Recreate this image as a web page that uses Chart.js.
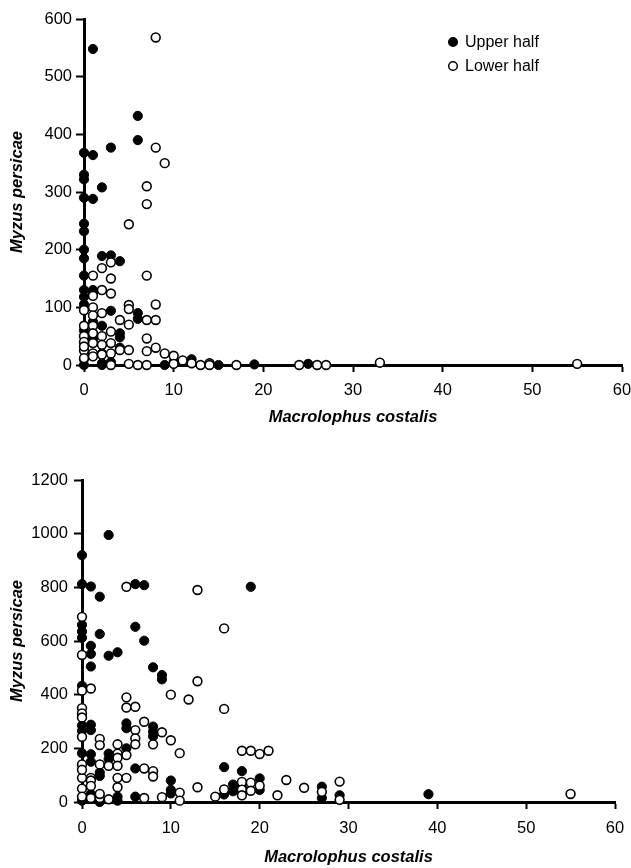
<!DOCTYPE html>
<html>
<head>
<meta charset="utf-8">
<title>Myzus persicae vs Macrolophus costalis</title>
<script src="https://cdn.jsdelivr.net/npm/chart.js@4/dist/chart.umd.min.js"></script>
<style>
  html, body { margin: 0; padding: 0; background: #fff; }
  canvas { display: block; }
</style>
</head>
<body>
<canvas id="topChart" width="631" height="435"></canvas>
<canvas id="bottomChart" width="631" height="433"></canvas>
<script>
// 상단 그래프 (0-600) : Upper half = 채움, Lower half = 빈 원
const topUpperX = [1, 6, 6, 3, 0, 1, 0, 0, 2, 0, 1, 0, 0, 0, 0, 2, 3, 4, 0, 0, 1, 0, 1, 0, 3, 6, 6, 2, 4, 4, 0, 1, 2, 2, 3, 2, 0, 9, 10, 12, 15, 19, 25, 4, 1, 0];
const topUpperY = [548, 432, 390, 377, 368, 364, 330, 322, 308, 290, 288, 245, 232, 200, 185, 189, 190, 180, 155, 130, 130, 118, 124, 105, 94, 90, 80, 68, 55, 48, 60, 75, 20, 3, 5, 0, 0, 0, 5, 10, 0, 1, 2, 30, 45, 10];
const topLowerX = [8, 8, 9, 7, 7, 5, 7, 1, 3, 2, 2, 3, 3, 1, 0, 1, 5, 5, 8, 7, 8, 4, 5, 2, 1, 0, 1, 3, 1, 2, 7, 0, 0, 1, 3, 8, 5, 4, 7, 9, 10, 0, 1, 2, 3, 0, 1, 2, 11, 12, 13, 14, 14, 17, 24, 26, 27, 33, 55, 5, 6, 7, 10, 0, 3];
const topLowerY = [568, 377, 350, 310, 279, 244, 155, 155, 178, 168, 130, 150, 124, 120, 95, 100, 104, 97, 105, 78, 78, 78, 70, 90, 86, 68, 68, 58, 55, 50, 46, 50, 40, 38, 38, 30, 26, 26, 24, 20, 16, 25, 20, 35, 20, 12, 15, 18, 8, 3, 0, 3, 0, 0, 0, 0, 0, 4, 2, 2, 0, 0, 2, 32, 0];

// 하단 그래프 (0-1200)
const bottomUpperX = [3, 0, 0, 1, 2, 6, 7, 19, 0, 0, 0, 2, 6, 7, 1, 1, 3, 4, 1, 8, 9, 9, 0, 0, 0, 1, 1, 5, 5, 8, 8, 8, 0, 1, 1, 3, 5, 3, 2, 2, 6, 10, 10, 10, 16, 18, 20, 17, 17, 20, 27, 27, 29, 39, 4, 4, 6, 0, 1, 16, 2, 18];
const bottomUpperY = [995, 920, 812, 803, 765, 812, 808, 802, 660, 635, 612, 626, 653, 601, 582, 552, 545, 558, 505, 502, 473, 457, 433, 285, 265, 288, 268, 293, 275, 281, 262, 245, 182, 178, 150, 180, 200, 160, 110, 97, 125, 80, 45, 32, 130, 115, 88, 65, 40, 45, 57, 15, 25, 29, 20, 5, 20, 5, 30, 28, 0, 55];
const bottomLowerX = [5, 13, 0, 16, 0, 13, 10, 12, 16, 1, 0, 5, 5, 6, 0, 0, 0, 7, 0, 6, 6, 9, 10, 11, 6, 8, 2, 2, 4, 4, 4, 5, 0, 2, 3, 4, 1, 1, 0, 0, 0, 0, 1, 1, 2, 3, 7, 8, 8, 5, 4, 4, 11, 11, 13, 15, 16, 18, 19, 20, 21, 18, 18, 18, 19, 19, 20, 22, 23, 25, 27, 29, 29, 55, 7, 9, 2];
const bottomLowerY = [802, 790, 690, 647, 548, 450, 400, 382, 347, 423, 415, 390, 352, 355, 350, 330, 315, 299, 243, 268, 237, 260, 230, 182, 215, 215, 235, 212, 215, 180, 165, 175, 140, 140, 135, 135, 90, 80, 90, 50, 120, 20, 60, 15, 15, 10, 125, 115, 95, 90, 90, 55, 35, 5, 55, 20, 47, 191, 191, 179, 191, 75, 46, 25, 72, 42, 61, 25, 82, 53, 38, 76, 8, 30, 15, 18, 30];

const seriesLabels = ['Upper half', 'Lower half'];
const xTitle = 'Macrolophus costalis';
const yTitle = 'Myzus persicae';

const FONT = '"Liberation Sans", Arial, Helvetica, sans-serif';

function toPoints(xs, ys) {
  return xs.map(function (x, i) { return { x: x, y: ys[i] }; });
}

// 플롯 안쪽 오른쪽 위 범례
const insideLegend = {
  id: 'insideLegend',
  afterDraw: function (chart) {
    const ctx = chart.ctx;
    const x = 453;
    const rows = [42, 66];
    ctx.save();
    ctx.font = '16px ' + FONT;
    ctx.textBaseline = 'middle';
    chart.data.datasets.forEach(function (ds, i) {
      const y = rows[i];
      ctx.beginPath();
      ctx.arc(x, y, 4.3, 0, Math.PI * 2);
      ctx.fillStyle = ds.backgroundColor;
      ctx.fill();
      ctx.lineWidth = 1.5;
      ctx.strokeStyle = '#000';
      ctx.stroke();
      ctx.fillStyle = '#000';
      ctx.fillText(ds.label, x + 12, y + 1);
    });
    ctx.restore();
  }
};

function makeChart(id, opts) {
  const ctx = document.getElementById(id).getContext('2d');
  return new Chart(ctx, {
    type: 'scatter',
    data: {
      datasets: [
        {
          label: seriesLabels[0],
          data: toPoints(opts.upperX, opts.upperY),
          backgroundColor: '#000',
          borderColor: '#000',
          borderWidth: 1,
          pointRadius: 4.6,
          clip: false,
          order: 2,
        },
        {
          label: seriesLabels[1],
          data: toPoints(opts.lowerX, opts.lowerY),
          backgroundColor: '#fff',
          borderColor: '#000',
          borderWidth: 1.6,
          pointRadius: 4.4,
          clip: false,
          order: 1,
        },
      ],
    },
    options: {
      responsive: false,
      animation: false,
      events: [],
      layout: { padding: opts.padding },
      plugins: {
        legend: { display: false },
        tooltip: { enabled: false },
      },
      scales: {
        x: {
          type: 'linear',
          min: 0,
          max: 60,
          ticks: {
            stepSize: 10,
            color: '#000',
            font: { family: FONT, size: 16.5 },
            padding: opts.xTickPad,
            maxRotation: 0,
            callback: function (v) { return String(v); },
          },
          grid: {
            drawOnChartArea: false,
            tickLength: 7,
            tickColor: '#000',
            tickWidth: 2,
          },
          border: { color: '#000', width: 3 },
          title: {
            display: true,
            text: xTitle,
            color: '#000',
            font: { family: FONT, size: 16.5, weight: 'bold', style: 'italic' },
            // 아래쪽 축 제목은 padding.bottom 으로 위치가 정해짐
            padding: { top: 0, bottom: opts.xTitlePad },
          },
          afterFit: function (scale) {
            scale.height = opts.xHeight;
            scale.paddingLeft = 0;
            scale.paddingRight = 0;
          },
        },
        y: {
          type: 'linear',
          min: 0,
          max: opts.yMax,
          ticks: {
            stepSize: opts.yStep,
            color: '#000',
            font: { family: FONT, size: 16.5 },
            padding: opts.yTickPad,
            callback: function (v) { return String(v); },
          },
          grid: {
            drawOnChartArea: false,
            tickLength: 8,
            tickColor: '#000',
            tickWidth: 2,
          },
          border: { color: '#000', width: 3 },
          title: {
            display: true,
            text: yTitle,
            color: '#000',
            font: { family: FONT, size: 16.5, weight: 'bold', style: 'italic' },
            padding: { top: 8, bottom: 0 },
          },
          afterFit: function (scale) { scale.width = opts.yWidth; },
        },
      },
    },
    plugins: opts.plugins || [],
  });
}

makeChart('topChart', {
  upperX: topUpperX, upperY: topUpperY,
  lowerX: topLowerX, lowerY: topLowerY,
  yMax: 600, yStep: 100,
  padding: { top: 19, right: 9, bottom: 0, left: 0 },
  yWidth: 84, xHeight: 70,
  xTickPad: 9, yTickPad: 4, xTitlePad: 8,
  plugins: [insideLegend],
});

makeChart('bottomChart', {
  upperX: bottomUpperX, upperY: bottomUpperY,
  lowerX: bottomLowerX, lowerY: bottomLowerY,
  yMax: 1200, yStep: 200,
  padding: { top: 45, right: 16, bottom: 0, left: 0 },
  yWidth: 82, xHeight: 66,
  xTickPad: 10, yTickPad: 6, xTitlePad: 1,
});
</script>
</body>
</html>
